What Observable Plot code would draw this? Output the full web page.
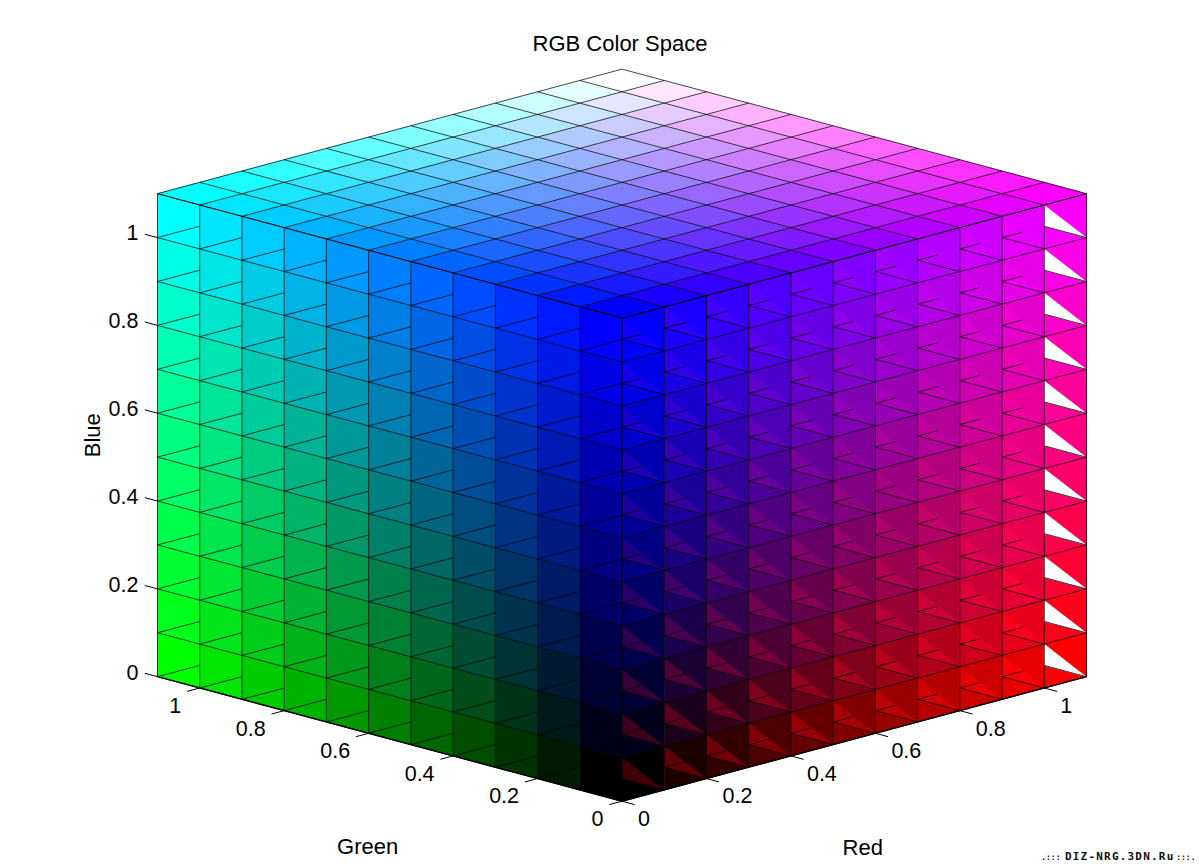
<!DOCTYPE html>
<html><head><meta charset="utf-8">
<script src="https://cdn.jsdelivr.net/npm/d3@7"></script>
<script src="https://cdn.jsdelivr.net/npm/@observablehq/plot@0.6"></script>
<style>
html,body{margin:0;padding:0;background:#fff}
svg{display:block}
.wm text{letter-spacing:1.2px}
</style></head><body>
<div id="chart"></div>
<script>
// Colour levels of the cube's cells (one per 0.1 step along each axis)
const levels = [0, 0.1, 0.2, 0.3, 0.4, 0.5, 0.6, 0.7, 0.8, 0.9, 1];
const axisMax = 1.1;
const step = 0.1;
const tickValues = [0, 0.2, 0.4, 0.6, 0.8, 1];
const title = "RGB Color Space";
const axisNames = ["Red", "Green", "Blue"];
const watermark = ["DIZ-NRG.3DN.Ru", ".:::", ":::."];

// Orthographic view of the cube (projected units are the scale domains)
const view = {kx: 422.3, ky: 113.2, kz: 439.1};
const px = d => (d.r - d.g) * view.kx;
const py = d => (d.r + d.g) * view.ky + d.b * view.kz;

const rise = 0.0515;      // height offset of the diagonal seams in the faces
// extra red of the artefact triangles in the Red face, read per Blue level and per Red column
const triRedByBlue = [0.26, 0.24, 0.21, 0.18, 0.15, 0.12, 0.11, 0.10, 0.09, 0.08, 0.07];
const triRedByColumn = [1, 1, 0.9, 0.8, 0.7, 0.6, 0.5, 0.45, 0.4, 0.35, 0];
const triBlue = 0.02;

const rgb = (r, g, b) =>
  `rgb(${[r, g, b].map(v => Math.round(Math.min(1, Math.max(0, v)) * 255)).join(",")})`;

// ---------- polygons ----------
const verts = [];
let pid = 0;
function poly(color, pts) {
  pid++;
  for (const [r, g, b] of pts) verts.push({id: pid, color, r, g, b});
}
levels.forEach((u, i) => levels.forEach((v, j) => {
  // top face: Blue = axis maximum
  poly(rgb(u, v, 1), [[u, v, axisMax], [u + step, v, axisMax], [u + step, v + step, axisMax], [u, v + step, axisMax]]);
  // left face: Red = 0  (u = Green, v = Blue)
  poly(rgb(0, u, v), [[0, u, v], [0, u + step, v], [0, u + step, v + step], [0, u, v + step]]);
  // right face: Green = 0 (u = Red, v = Blue)
  poly(rgb(u, 0, v), [[u, 0, v], [u + step, 0, v], [u + step, 0, v + step], [u, 0, v + step]]);
  poly(u >= 1 ? "#ffffff" : rgb(u + triRedByBlue[j] * triRedByColumn[i], 0, v + triBlue),
    [[u, 0, v + step], [u, 0, v + rise], [u + step, 0, v]]);
}));

// ---------- grid lines ----------
const seg = [];
const L = (a, b) => seg.push({x1: a, x2: b});
const grid = [...levels, axisMax];
for (const k of grid) {
  // top face rhombi
  L({r: k, g: 0, b: axisMax}, {r: k, g: axisMax, b: axisMax});
  L({r: 0, g: k, b: axisMax}, {r: axisMax, g: k, b: axisMax});
  // constant-Blue lines on both side faces
  L({r: 0, g: 0, b: k}, {r: 0, g: axisMax, b: k});
  L({r: 0, g: 0, b: k}, {r: axisMax, g: 0, b: k});
  // verticals
  L({r: 0, g: k, b: 0}, {r: 0, g: k, b: axisMax});
  L({r: k, g: 0, b: 0}, {r: k, g: 0, b: axisMax});
}
for (const u of levels) for (const v of levels) {
  // left face: seam rising to the right
  L({r: 0, g: u + step, b: v}, {r: 0, g: u, b: v + rise});
  // right face: seam falling to the right, plus its short stub
  L({r: u, g: 0, b: v + rise}, {r: u + step, g: 0, b: v});
  if (u < 1) L({r: u, g: 0, b: v + rise}, {r: u + step * 0.48, g: 0, b: v + rise});
}
// heavier bottom edges
const bottom = [
  {x1: {r: 0, g: 0, b: 0}, x2: {r: 0, g: axisMax, b: 0}},
  {x1: {r: 0, g: 0, b: 0}, x2: {r: axisMax, g: 0, b: 0}}
];

// ---------- ticks ----------
const tickLen = 0.03;
const blueTicks = tickValues.map(v => ({x1: {r: 0, g: axisMax, b: v}, x2: {r: 0, g: axisMax + tickLen, b: v}, v}));
const greenTicks = tickValues.map(v => ({x1: {r: 0, g: v, b: 0}, x2: {r: -tickLen, g: v, b: 0}, v}));
const redTicks = tickValues.map(v => ({x1: {r: v, g: 0, b: 0}, x2: {r: v, g: -tickLen, b: 0}, v}));
const FS = 21.5;
const FST = 22;
const link = (data, o) => Plot.link(data, {
  x1: d => px(d.x1), y1: d => py(d.x1), x2: d => px(d.x2), y2: d => py(d.x2), ...o});
const tickText = (data, o) => Plot.text(data, {
  x: d => px(d.x1), y: d => py(d.x1), text: d => String(d.v), fontSize: FS, fill: "#000", ...o});
const at = (r, g, b) => [{r, g, b}];
const wmStyle = {frameAnchor: "bottom-right", text: d => d, dy: -5, fontWeight: "bold",
  fontFamily: "'DejaVu Sans Mono', monospace", fill: "#111"};

const plot = Plot.plot({
  width: 1199, height: 864,
  marginTop: 0, marginRight: 0, marginBottom: 0, marginLeft: 0,
  x: {domain: [-621.5, 577.5], range: [0, 1199], axis: null},
  y: {domain: [-63.3, 800.7], range: [864, 0], axis: null},
  style: {fontFamily: "'Liberation Sans', Arial, sans-serif", background: "#fff"},
  marks: [
    Plot.line(verts, {x: px, y: py, z: "id", fill: "color", stroke: "color", strokeWidth: 0.5}),
    link(seg, {stroke: "#000", strokeOpacity: 0.72, strokeWidth: 1}),
    link(bottom, {stroke: "#000", strokeWidth: 1.4}),
    link(blueTicks, {stroke: "#000", strokeWidth: 1}),
    link(greenTicks, {stroke: "#000", strokeWidth: 1}),
    link(redTicks, {stroke: "#000", strokeWidth: 1}),
    tickText(blueTicks, {textAnchor: "end", dx: -19, dy: -4}),
    tickText(greenTicks, {textAnchor: "end", dx: -18.5, dy: 18}),
    tickText(redTicks, {textAnchor: "start", dx: 16, dy: 18}),
    Plot.text(at(axisMax, axisMax, axisMax), {x: px, y: py, text: () => title, fontSize: FST, dy: -25, dx: -2}),
    Plot.text(at(0.57, 0, 0), {x: px, y: py, text: () => axisNames[0], fontSize: FST, dy: 111}),
    Plot.text(at(0, 0.6, 0), {x: px, y: py, text: () => axisNames[1], fontSize: FST, dy: 114, dx: -1}),
    Plot.text(at(0, axisMax, 0.55), {x: px, y: py, text: () => axisNames[2], fontSize: FST, rotate: -90, dx: -65}),
    Plot.text([watermark[0]], {...wmStyle, dx: -25, fontSize: 11, className: "wm"}),
    Plot.text([watermark[1]], {...wmStyle, dx: -139, fontSize: 8}),
    Plot.text([watermark[2]], {...wmStyle, dx: -4, fontSize: 8})
  ]
});
document.getElementById("chart").append(plot);
</script>
</body></html>
